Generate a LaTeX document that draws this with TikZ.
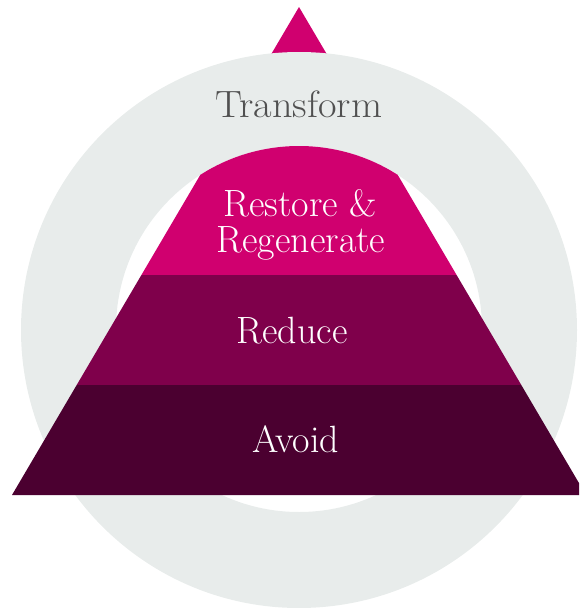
\documentclass[tikz,border=0pt]{standalone}
\usepackage{fontspec}
\definecolor{ringgrey}{HTML}{E8ECEB}
\definecolor{pinktop}{HTML}{D0006F}
\definecolor{midplum}{HTML}{7F004B}
\definecolor{darkplum}{HTML}{4B0030}
\definecolor{txtgrey}{HTML}{505050}
\begin{document}
\begin{tikzpicture}[x=1pt,y=-1pt,
  lbl/.style={text=white,font=\fontsize{38}{36}\selectfont,inner sep=0pt,anchor=base},
  toplbl/.style={text=txtgrey,font=\fontsize{38}{36}\selectfont,inner sep=0pt,anchor=base,xscale=1.06}]
\useasboundingbox (0,0) rectangle (579,608);
\clip (0,0) rectangle (579,608);
% apex tip behind the ring
\fill[pinktop] (299,7) -- (332,63) -- (266,63) -- cycle;
% grey ring
\fill[ringgrey,even odd rule] (299,330) circle[radius=278pt] (299,329) circle[radius=183pt];
% top band clipped to inner circle
\begin{scope}
  \clip (299,329) circle[radius=183pt];
  \fill[pinktop] (299,7) -- (456.6,275) -- (141.4,275) -- cycle;
\end{scope}
\fill[midplum] (141.4,275) -- (456.6,275) -- (521.3,385) -- (76.7,385) -- cycle;
\fill[darkplum] (76.7,385) -- (521.3,385) -- (586,495) -- (12,495) -- cycle;
% labels
\node[toplbl] (transform) at (299,117) {Transform};
\node[lbl] (restore) at (300,216) {Restore \&};
\node[lbl] (regen) at (301,252) {Regenerate};
\node[lbl] (reduce) at (292,343) {Reduce};
\node[lbl] (avoid) at (296,452) {Avoid};
\end{tikzpicture}
\end{document}
